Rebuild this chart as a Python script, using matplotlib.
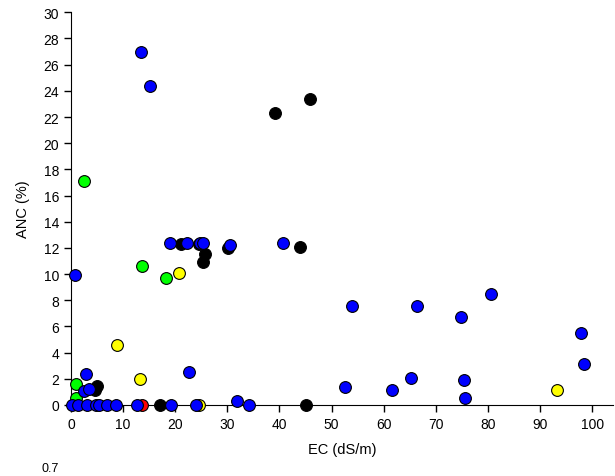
import matplotlib
matplotlib.use('Agg')
import matplotlib.pyplot as plt
import numpy as np

plt.rcParams['font.family'] = ['Liberation Sans', 'DejaVu Sans']

# EC (dS/m) vs ANC (%) per group
blue_ec = [13.5, 15.2, 0.8, 19.0, 22.3, 24.8, 25.4, 30.6, 40.7, 53.9, 66.4, 80.6, 74.8,
           97.8, 98.4, 75.4, 75.6, 52.6, 61.6, 65.2, 22.7, 2.9, 2.5, 3.5, 31.9,
           0.25, 1.4, 3.1, 4.8, 5.3, 6.85, 8.6, 12.6, 19.1, 23.9, 34.2]
blue_anc = [27.0, 24.35, 9.9, 12.37, 12.4, 12.4, 12.4, 12.2, 12.4, 7.56, 7.56, 8.5, 6.7,
            5.5, 3.1, 1.9, 0.5, 1.4, 1.15, 2.1, 2.5, 2.4, 1.07, 1.2, 0.28,
            0, 0, 0, 0, 0, 0, 0, 0, 0, 0, 0]

black_ec = [39.2, 45.9, 21.2, 24.6, 25.8, 25.3, 30.2, 44.0, 5.05, 4.55, 17.0, 45.1]
black_anc = [22.3, 23.4, 12.3, 12.3, 11.55, 10.9, 12.0, 12.05, 1.47, 1.17, 0, 0]

green_ec = [2.5, 13.7, 18.2, 0.9, 0.96]
green_anc = [17.1, 10.6, 9.7, 1.58, 0.5]

yellow_ec = [20.8, 8.8, 13.2, 24.5, 93.2]
yellow_anc = [10.1, 4.6, 2.0, 0, 1.15]

red_ec = [13.6]
red_anc = [0]

fig = plt.figure(figsize=(6.15, 4.77), dpi=100)
ax = fig.add_axes([71/615, 1-406/477, 542/615, (406-13.3)/477])

kw = dict(s=72, edgecolors='k', linewidths=0.8, clip_on=False, zorder=3)
ax.scatter(black_ec, black_anc, c='black', **kw)
ax.scatter(yellow_ec, yellow_anc, c='#ffff00', **kw)
ax.scatter(red_ec, red_anc, c='#ff0000', **kw)
ax.scatter(green_ec, green_anc, c='#00ff00', **kw)
ax.scatter(blue_ec, blue_anc, c='#0000ff', **kw)

ax.set_xlim(0, 104)
ax.set_ylim(0, 30)
ax.set_xticks(np.arange(0, 101, 10))
ax.set_yticks(np.arange(0, 31, 2))
ax.spines['top'].set_visible(False)
ax.spines['right'].set_visible(False)
ax.tick_params(direction='out', length=5, width=1, labelsize=10)
ax.set_xlabel('EC (dS/m)', fontsize=10.5, labelpad=8)
ax.set_ylabel('ANC (%)', fontsize=10.5, labelpad=10)

# stray label at the bottom edge of the original
fig.text(41/615, 1-463/477, '0.7', fontsize=9, va='top', ha='left')

fig.savefig('out.png', dpi=100)
